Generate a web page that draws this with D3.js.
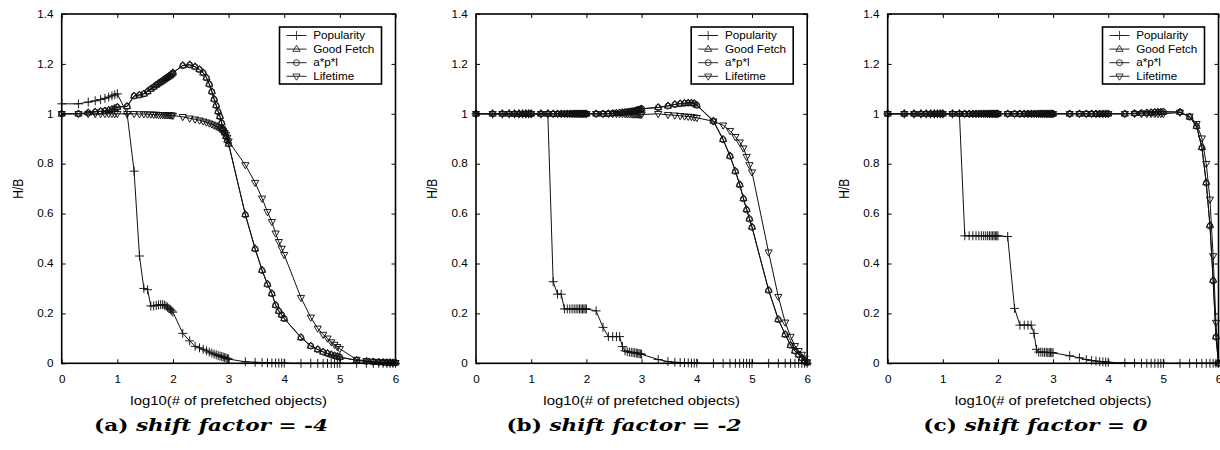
<!DOCTYPE html>
<html><head><meta charset="utf-8">
<script src="https://cdn.jsdelivr.net/npm/d3@7"></script>
<style>body{margin:0;background:#fff}</style>
</head><body><svg id="c" width="1220" height="450"></svg>
<script>
// x values: log10(# of prefetched objects)
const X = [
 0,0.301,0.477,0.602,0.699,0.778,0.845,0.903,0.954,1,
 1.176,1.301,1.398,1.477,1.544,1.602,1.653,1.699,1.740,1.778,1.813,1.845,1.875,1.903,1.929,1.954,1.978,2,
 2.176,2.301,2.398,2.477,2.544,2.602,2.653,2.699,2.740,2.778,2.813,2.845,2.875,2.903,2.929,2.954,2.978,3,
 3.301,3.477,3.602,3.699,3.778,3.845,3.903,3.954,4,
 4.301,4.477,4.602,4.699,4.778,4.845,4.903,4.954,5,
 5.301,5.477,5.602,5.699,5.778,5.845,5.903,5.954,6];

// (a) shift factor = -4
const popA = [
 1.04,1.04,1.047,1.052,1.057,1.062,1.067,1.072,1.076,1.08,
 1.0,0.77,0.43,0.30,0.295,0.23,0.23,0.232,0.234,0.235,0.235,0.233,0.23,0.225,0.22,0.215,0.21,0.205,
 0.12,0.09,0.068,0.062,0.056,0.05,0.045,0.041,0.037,0.034,0.031,0.029,0.027,0.025,0.023,0.021,0.019,0.017,
 0.006,0.004,0.003,0.002,0.0015,0.001,0.001,0.001,0.001,
 0,0,0,0,0,0,0,0,0,
 0,0,0,0,0,0,0,0,0];
const goodA = [
 1.0,1.0,1.005,1.008,1.01,1.012,1.015,1.018,1.022,1.027,
 1.03,1.072,1.076,1.08,1.09,1.10,1.108,1.116,1.122,1.128,1.133,1.138,1.143,1.147,1.151,1.155,1.16,1.165,
 1.194,1.197,1.189,1.178,1.165,1.145,1.12,1.09,1.06,1.035,1.01,0.99,0.965,0.94,0.925,0.91,0.895,0.88,
 0.597,0.46,0.374,0.318,0.28,0.234,0.21,0.195,0.18,
 0.104,0.07,0.056,0.046,0.04,0.035,0.031,0.028,0.025,
 0.012,0.008,0.006,0.005,0.004,0.003,0.003,0.002,0.002];
const aplA = [
 1.0,1.0,1.004,1.007,1.01,1.012,1.014,1.017,1.021,1.026,
 1.03,1.071,1.075,1.08,1.089,1.10,1.107,1.115,1.121,1.127,1.132,1.137,1.142,1.146,1.15,1.154,1.159,1.164,
 1.193,1.196,1.188,1.177,1.164,1.144,1.118,1.088,1.058,1.033,1.008,0.988,0.963,0.939,0.924,0.909,0.894,0.879,
 0.595,0.458,0.372,0.316,0.279,0.233,0.209,0.194,0.179,
 0.103,0.069,0.055,0.045,0.039,0.034,0.03,0.027,0.024,
 0.012,0.008,0.006,0.005,0.004,0.003,0.003,0.002,0.002];
const lifeA = [
 1.0,1.0,1.0,1.0,1.0,1.0,1.0,1.0,1.0,1.0,
 1.0,1.0,0.999,0.999,0.998,0.998,0.997,0.997,0.996,0.996,0.996,0.995,0.995,0.995,0.995,0.994,0.994,0.993,
 0.988,0.982,0.978,0.974,0.97,0.966,0.962,0.958,0.954,0.95,0.946,0.94,0.935,0.93,0.924,0.916,0.905,0.89,
 0.795,0.724,0.661,0.607,0.567,0.521,0.487,0.46,0.435,
 0.263,0.184,0.14,0.115,0.1,0.085,0.075,0.066,0.058,
 0.015,0.01,0.007,0.005,0.004,0.003,0.003,0.002,0.002];

// (b) shift factor = -2
const popB = [
 1,1,1,1,1,1,1,1,1,1,
 1.0,1.0,0.327,0.277,0.277,0.218,0.218,0.218,0.218,0.218,0.218,0.218,0.218,0.218,0.218,0.218,0.218,0.218,
 0.21,0.144,0.107,0.107,0.107,0.107,0.067,0.05,0.047,0.045,0.044,0.043,0.042,0.041,0.04,0.039,0.038,0.036,
 0.015,0.007,0.004,0.003,0.002,0.002,0.001,0.001,0.001,
 0,0,0,0,0,0,0,0,0,
 0,0,0,0,0,0,0,0,0];
const goodB = [
 1,1,1,1,1,1,1,1,1,1,
 1,1,1,1,1,1,1,1,1,1,1,1,1,1,1,1,1,1,
 1.0,1.0,1.001,1.002,1.003,1.004,1.005,1.006,1.007,1.008,1.009,1.01,1.011,1.013,1.015,1.016,1.018,1.02,
 1.026,1.032,1.038,1.041,1.043,1.044,1.044,1.042,1.035,
 0.972,0.898,0.832,0.771,0.717,0.661,0.617,0.58,0.547,
 0.294,0.176,0.116,0.073,0.05,0.035,0.022,0.012,0.003];
const aplB = [
 1,1,1,1,1,1,1,1,1,1,
 1,1,1,1,1,1,1,1,1,1,1,1,1,1,1,1,1,1,
 1.0,1.0,1.001,1.002,1.003,1.004,1.005,1.006,1.007,1.008,1.009,1.01,1.011,1.012,1.014,1.016,1.018,1.02,
 1.025,1.031,1.037,1.04,1.042,1.043,1.043,1.041,1.034,
 0.97,0.896,0.83,0.769,0.715,0.659,0.615,0.578,0.545,
 0.292,0.175,0.115,0.072,0.049,0.034,0.021,0.012,0.003];
const lifeB = [
 1,1,1,1,1,1,1,1,1,1,
 1,1,1,1,1,1,1,1,1,1,1,1,1,1,1,1,1,1,
 1,1,1,1,1,1,1,1,0.999,0.999,0.999,0.998,0.998,0.998,0.998,0.997,0.997,0.997,
 1.0,0.996,0.994,0.992,0.99,0.989,0.988,0.986,0.984,
 0.97,0.954,0.932,0.908,0.886,0.862,0.828,0.795,0.766,
 0.445,0.267,0.164,0.107,0.07,0.05,0.035,0.02,0.005];

// (c) shift factor = 0
const popC = [
 1,1,1,1,1,1,1,1,1,1,
 1.0,1.0,0.511,0.511,0.511,0.511,0.511,0.511,0.511,0.511,0.511,0.511,0.511,0.511,0.511,0.511,0.511,0.511,
 0.508,0.22,0.153,0.153,0.153,0.153,0.12,0.056,0.045,0.045,0.044,0.044,0.044,0.043,0.043,0.043,0.043,0.042,
 0.03,0.022,0.015,0.011,0.009,0.007,0.006,0.005,0.004,
 0.002,0.001,0,0,0,0,0,0,0,
 0,0,0,0,0,0,0,0,0];
const goodC = [
 1,1,1,1,1,1,1,1,1,1,
 1,1,1,1,1,1,1,1,1,1,1,1,1,1,1,1,1,1,
 1,1,1,1,1,1,1,1,1,1,1,1,1,1,1,1,1,1,
 1,1,1,1,1,1,1,1,1,
 1.0,1.002,1.003,1.004,1.005,1.006,1.007,1.007,1.008,
 1.007,0.988,0.951,0.866,0.725,0.554,0.334,0.107,0.0];
const aplC = [
 1,1,1,1,1,1,1,1,1,1,
 1,1,1,1,1,1,1,1,1,1,1,1,1,1,1,1,1,1,
 1,1,1,1,1,1,1,1,1,1,1,1,1,1,1,1,1,1,
 1,1,1,1,1,1,1,1,1,
 1.0,1.002,1.003,1.004,1.005,1.006,1.007,1.007,1.008,
 1.007,0.987,0.95,0.864,0.722,0.55,0.33,0.105,0.0];
const lifeC = [
 1,1,1,1,1,1,1,1,1,1,
 1,1,1,1,1,1,1,1,1,1,1,1,1,1,1,1,1,1,
 1,1,1,1,1,1,1,1,1,1,1,1,1,1,1,1,1,1,
 1,1,1,1,1,1,1,1,1,
 1,1,1,1,1,1,1,1,1,
 1.005,0.99,0.96,0.902,0.80,0.657,0.43,0.163,0.0];

const seriesNames = ["Popularity","Good Fetch","a*p*l","Lifetime"];
const xTicks = [0,1,2,3,4,5,6];
const yTicks = [0,0.2,0.4,0.6,0.8,1,1.2,1.4];
const xTitle = "log10(# of prefetched objects)";
const yTitle = "H/B";
const capLetters = ["(a)","(b)","(c)"];
const capShifts = ["-4","-2","0"];

// ---- layout / style ----
const TOP = 14, BOTTOM = 363.3, SX = 1.17, INK = "#111";
const FONT = "'Liberation Sans', Arial, Helvetica, sans-serif";
const panels = [
  {left:61.7, right:395.5, capX:211, data:[popA,goodA,aplA,lifeA]},
  {left:476,  right:807.2, capX:624, data:[popB,goodB,aplB,lifeB]},
  {left:887.7,right:1218.5,capX:1035.5, data:[popC,goodC,aplC,lifeC]}
];
const MARKS = [
  "M-4.5,0H4.5M0,-4.5V4.5",
  "M0,-3.9L3.6,2.3L-3.6,2.3Z",
  d3.symbol(d3.symbolCircle, 28)(),
  "M0,3.9L3.6,-2.3L-3.6,-2.3Z"
];

const svg = d3.select("#c");

panels.forEach((p, pi) => {
  const x = d3.scaleLinear().domain([0,6]).range([p.left, p.right]);
  const y = d3.scaleLinear().domain([0,1.4]).range([BOTTOM, TOP]);
  const g = svg.append("g");

  const line = d3.line().x(d => x(d[0])).y(d => y(d[1]));
  p.data.forEach((vals, i) => {
    const pts = X.map((xv, j) => [xv, vals[j]]);
    g.append("path").datum(pts).attr("d", line)
      .attr("fill","none").attr("stroke",INK).attr("stroke-width",1);
    g.append("g").selectAll("path").data(pts).join("path")
      .attr("transform", d => `translate(${x(d[0])},${y(d[1])})`)
      .attr("d", MARKS[i]).attr("fill","none")
      .attr("stroke",INK).attr("stroke-width",0.95);
  });

  const styleAxis = sel => {
    sel.attr("font-family", FONT).attr("font-size", 10);
    sel.select(".domain").remove();
    sel.selectAll(".tick line").attr("stroke","#000").attr("stroke-width",1);
    sel.selectAll(".tick text").attr("fill","#000").attr("transform",`scale(${SX},1)`);
  };
  g.append("g").attr("transform",`translate(0,${BOTTOM})`)
    .call(d3.axisBottom(x).tickValues(xTicks).tickSize(-4).tickPadding(12.3).tickFormat(d3.format("d")))
    .call(styleAxis);
  g.append("g").attr("transform",`translate(0,${TOP})`)
    .call(d3.axisTop(x).tickValues(xTicks).tickSize(-4).tickFormat(""))
    .call(styleAxis);
  g.append("g").attr("transform",`translate(${p.left},0)`)
    .call(d3.axisLeft(y).tickValues(yTicks).tickSize(-4).tickPadding(7).tickFormat(d3.format("~g")))
    .call(styleAxis);
  g.append("g").attr("transform",`translate(${p.right},0)`)
    .call(d3.axisRight(y).tickValues(yTicks).tickSize(-4).tickFormat(""))
    .call(styleAxis);

  g.append("rect").attr("x",p.left).attr("y",TOP)
    .attr("width",p.right-p.left).attr("height",BOTTOM-TOP)
    .attr("fill","none").attr("stroke","#000").attr("stroke-width",1.6);

  // axis titles
  g.append("text").attr("transform",`translate(${(p.left+p.right)/2},405) scale(${SX},1)`)
    .attr("text-anchor","middle").attr("font-family",FONT).attr("font-size",12.7)
    .text(xTitle);
  g.append("text").attr("transform",`translate(${p.left-44},${(TOP+BOTTOM)/2}) scale(${SX},1) rotate(-90)`)
    .attr("text-anchor","middle").attr("dy","0.35em").attr("font-family",FONT).attr("font-size",12)
    .text(yTitle);

  // legend
  const lw = 102, lh = 57;
  const lg = g.append("g").attr("transform",`translate(${p.right-14-lw},${TOP+13})`);
  lg.append("rect").attr("width",lw).attr("height",lh).attr("fill","#fff")
    .attr("stroke","#000").attr("stroke-width",1.6);
  seriesNames.forEach((name, i) => {
    const ry = 8.5 + i*13.6;
    lg.append("line").attr("x1",7).attr("x2",27).attr("y1",ry).attr("y2",ry)
      .attr("stroke",INK).attr("stroke-width",0.9);
    lg.append("path").attr("transform",`translate(17,${ry})`).attr("d",MARKS[i])
      .attr("fill","none").attr("stroke",INK).attr("stroke-width",0.8);
    lg.append("text").attr("transform",`translate(33.7,${ry}) scale(${SX},1)`)
      .attr("dy","0.35em").attr("font-family",FONT).attr("font-size",10).text(name);
  });

  // caption
  const cap = svg.append("text").attr("transform",`translate(${p.capX},431) scale(1.35,1)`)
    .attr("text-anchor","middle").attr("font-family","'DejaVu Serif', serif")
    .attr("font-size",16).attr("font-weight","bold");
  cap.append("tspan").text(capLetters[pi] + " ");
  cap.append("tspan").attr("font-style","italic").text("shift factor");
  cap.append("tspan").text(" = ");
  cap.append("tspan").attr("font-style","italic").text(capShifts[pi]);
});
</script>
</body></html>
